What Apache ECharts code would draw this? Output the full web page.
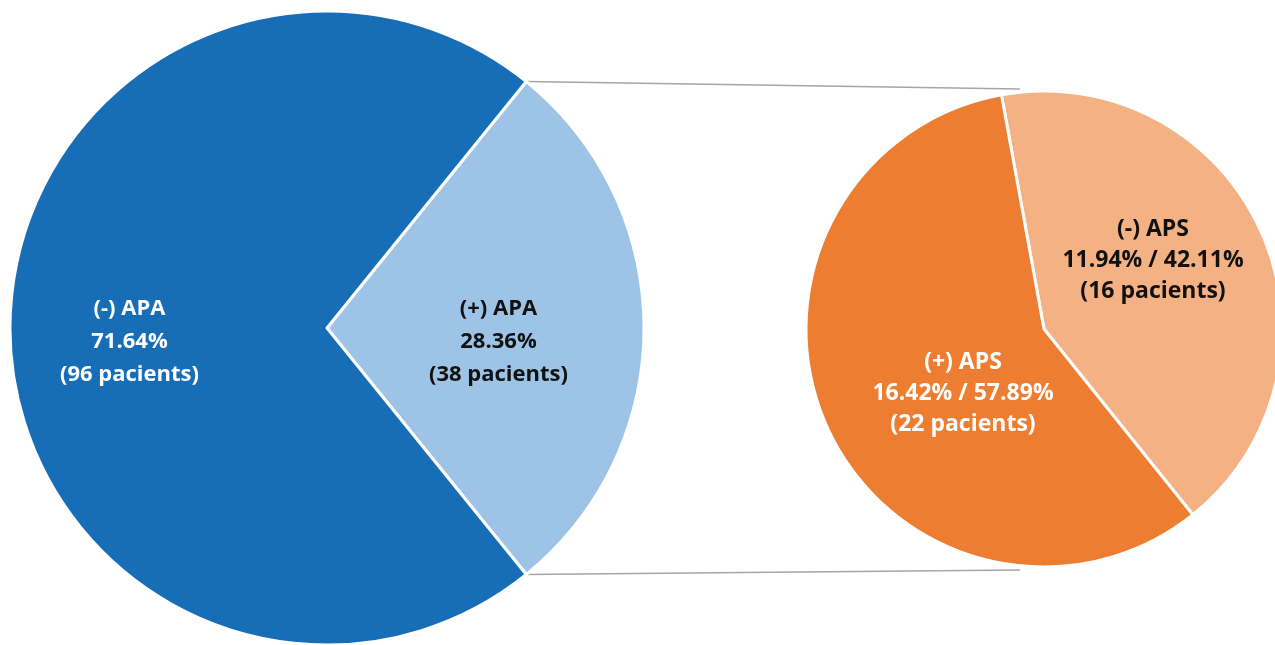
<!DOCTYPE html>
<html>
<head>
<meta charset="utf-8">
<script src="https://cdn.jsdelivr.net/npm/echarts@6/dist/echarts.min.js"></script>
<style>
  html, body { margin: 0; padding: 0; background: #fff; }
  #chart { width: 1275px; height: 645px; }
</style>
</head>
<body>
<div id="chart"></div>
<script>
// main pie: antiphospholipid antibodies
var apaNames = ['(+) APA', '(-) APA'];
var apaPatients = [38, 96];
// secondary pie: split of the (+) APA group
var apsNames = ['(-) APS', '(+) APS'];
var apsPatients = [16, 22];

var total = apaPatients[0] + apaPatients[1];
var subTotal = apsPatients[0] + apsPatients[1];

// layout
var c1 = [327, 328], r1 = 317;
var c2 = [1044, 329], r2 = 238;
var start1 = 360 * apaPatients[0] / total / 2;
var start2 = 100.3;

var fontFam = '"Open Sans", "Noto Sans", sans-serif';

function pct(v, t) {
  return (v / t * 100).toFixed(2) + '%';
}

// small nudges of the inside labels, by dataIndex
var apaLabelShift = [[10, 14], [-36, 14]];
var apsLabelShift = [[-2, -18], [30, 14]];

var chart = echarts.init(document.getElementById('chart'));

// connector lines from the (+) APA slice to the secondary pie
var a = start1 * Math.PI / 180;
var p1 = [c1[0] + r1 * Math.cos(a), c1[1] - r1 * Math.sin(a)];
var p2 = [c1[0] + r1 * Math.cos(a), c1[1] + r1 * Math.sin(a)];
var q1 = [c2[0] - 24, c2[1] - r2 - 2];
var q2 = [c2[0] - 24, c2[1] + r2 + 3];

chart.setOption({
  backgroundColor: '#fff',
  animation: false,
  graphic: [
    { type: 'line', z: 0, shape: { x1: p1[0], y1: p1[1], x2: q1[0], y2: q1[1] },
      style: { stroke: '#a6a6a6', lineWidth: 1.5 } },
    { type: 'line', z: 0, shape: { x1: p2[0], y1: p2[1], x2: q2[0], y2: q2[1] },
      style: { stroke: '#a6a6a6', lineWidth: 1.5 } }
  ],
  series: [
    {
      name: 'APA',
      type: 'pie',
      center: c1,
      radius: [0, r1],
      startAngle: start1,
      clockwise: true,
      avoidLabelOverlap: false,
      itemStyle: { borderColor: '#fff', borderWidth: 3 },
      label: {
        show: true,
        position: 'inside',
        fontFamily: fontFam,
        fontWeight: 'bold',
        fontSize: 22,
        lineHeight: 33,
        align: 'center',
        formatter: function (p) {
          return p.name + '\n' + pct(p.value, total) + '\n(' + p.value + ' pacients)';
        }
      },
      labelLine: { show: false },
      labelLayout: function (p) {
        var s = apaLabelShift[p.dataIndex];
        return { dx: s[0], dy: s[1] };
      },
      data: apaNames.map(function (n, i) {
        return {
          name: n,
          value: apaPatients[i],
          itemStyle: { color: i === 0 ? '#9dc3e6' : '#176eb7' },
          label: { color: i === 0 ? '#111' : '#fff' }
        };
      })
    },
    {
      name: 'APS',
      type: 'pie',
      center: c2,
      radius: [0, r2],
      startAngle: start2,
      clockwise: true,
      avoidLabelOverlap: false,
      itemStyle: { borderColor: '#fff', borderWidth: 3 },
      label: {
        show: true,
        position: 'inside',
        fontFamily: fontFam,
        fontWeight: 'bold',
        fontSize: 23,
        lineHeight: 31,
        align: 'center',
        formatter: function (p) {
          return p.name + '\n' + pct(p.value, total) + ' / ' + pct(p.value, subTotal) +
            '\n(' + p.value + ' pacients)';
        }
      },
      labelLine: { show: false },
      labelLayout: function (p) {
        var s = apsLabelShift[p.dataIndex];
        return { dx: s[0], dy: s[1] };
      },
      data: apsNames.map(function (n, i) {
        return {
          name: n,
          value: apsPatients[i],
          itemStyle: { color: i === 0 ? '#f4b183' : '#ed7d31' },
          label: { color: i === 0 ? '#111' : '#fff' }
        };
      })
    }
  ]
});
</script>
</body>
</html>
